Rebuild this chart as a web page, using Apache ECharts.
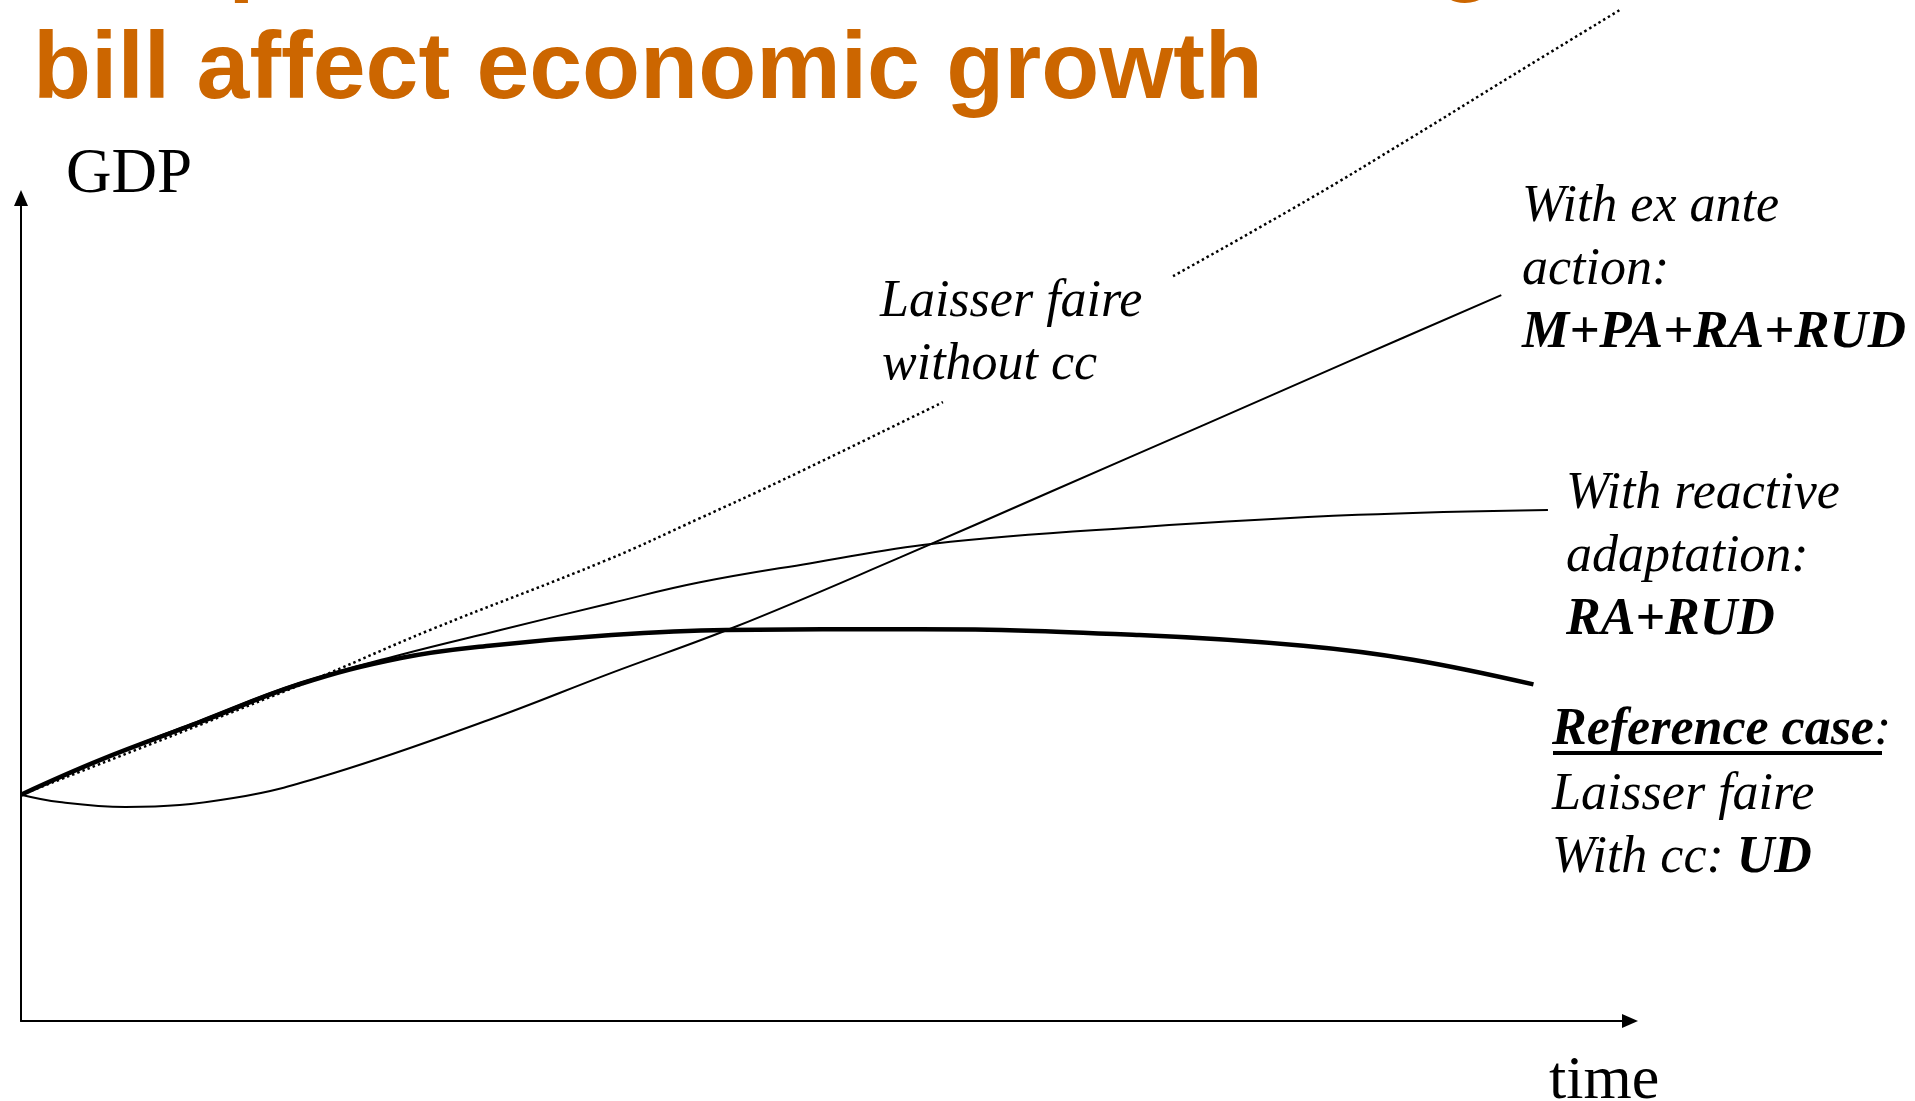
<!DOCTYPE html>
<html>
<head>
<meta charset="utf-8">
<style>
html,body{margin:0;padding:0;background:#fff;}
#chart{width:1915px;height:1101px;}
</style>
<script src="https://cdn.jsdelivr.net/npm/echarts@6/dist/echarts.min.js"></script>
</head>
<body>
<div id="chart"></div>
<script>
// ---- data (time, GDP) ----
const referenceCase = [[0,27.5],[4.9,31.7],[11.1,36.3],[17.3,40.9],[23.6,44.1],[29.1,45.6],[36.7,46.9],[43.8,47.5],[55.8,47.6],[69.5,46.9],[79.7,45.6],[86.5,43.9],[94.0,40.9]];
const reactiveAdaptation = [[0,27.5],[4.9,31.7],[11.1,36.5],[17.3,41.1],[23.6,44.5],[29.8,47.5],[36.7,50.8],[42.2,53.3],[49.0,55.6],[56.7,58.0],[69.5,60.0],[83.1,61.5],[94.9,62.1]];
const exAnteAction = [[0,27.5],[2.4,26.6],[6.5,26.0],[13.2,27.1],[19.4,30.1],[29.1,36.6],[36.7,42.3],[44.4,47.9],[54.6,56.3],[64.1,64.4],[73.6,72.5],[82.6,80.2],[92.0,88.2]];
const withoutCcLower = [[0,27.5],[17.7,41.1],[25.4,47.5],[36.4,56.0],[42.2,61.1],[47.3,65.7],[57.3,75.2]];
const withoutCcUpper = [[71.6,90.5],[80.0,99.8],[86.3,107.2],[92.7,114.9],[99.5,123.0]];

const titleLines = ['The policies and how the damage', 'bill affect economic growth'];
const axisNames = {y: 'GDP', x: 'time'};

const SERIF = "'Liberation Serif', 'Times New Roman', serif";
const SANS = "'Liberation Sans', Arial, sans-serif";
const FS = 52;

function textLine(x, baseline, text, opts, k) {
  const fs = opts.fontSize || FS;
  return {
    type: 'text', x: x, y: baseline - (k || 0.243) * fs, silent: true,
    style: Object.assign({
      text: text, fontSize: fs, fontFamily: SERIF, fill: '#000',
      align: 'left', verticalAlign: 'middle'
    }, opts)
  };
}
const richStyles = {
  i: {fontSize: FS, fontFamily: SERIF, fontStyle: 'italic', fill: '#000'},
  b: {fontSize: FS, fontFamily: SERIF, fontStyle: 'italic', fontWeight: 'bold', fill: '#000'}
};
const titleStyle = {fontSize: 95, fontFamily: SANS, fontWeight: 'bold', fill: '#CC6600'};

const graphics = [
  textLine(33, -15, titleLines[0], titleStyle, 0.296),
  textLine(33, 100, titleLines[1], titleStyle, 0.296),
  textLine(66, 191, axisNames.y, {fontSize: 63}),
  textLine(1549, 1097, axisNames.x, {fontSize: 62}),
  textLine(880, 315, 'Laisser faire', {fontStyle: 'italic'}),
  textLine(882, 378, 'without cc', {fontStyle: 'italic'}),
  textLine(1522, 220, 'With ex ante', {fontStyle: 'italic'}),
  textLine(1522, 283, 'action:', {fontStyle: 'italic'}),
  textLine(1522, 346, 'M+PA+RA+RUD', {fontStyle: 'italic', fontWeight: 'bold', fontSize: 53}),
  textLine(1566, 507, 'With reactive', {fontStyle: 'italic'}),
  textLine(1566, 570, 'adaptation:', {fontStyle: 'italic'}),
  textLine(1566, 633, 'RA+RUD', {fontStyle: 'italic', fontWeight: 'bold'}),
  textLine(1552, 743, '{b|Reference case}{i|:}', {rich: richStyles}),
  textLine(1552, 808, 'Laisser faire', {fontStyle: 'italic'}),
  textLine(1552, 871, '{i|With cc: }{b|UD}', {rich: richStyles}),
  {type: 'rect', silent: true, shape: {x: 1553, y: 751, width: 329, height: 4}, style: {fill: '#000'}}
];

function axis() {
  return {
    type: 'value', min: 0, max: 100,
    axisLine: {show: true, onZero: true, symbol: ['none', 'triangle'], symbolSize: [14, 16], lineStyle: {color: '#000', width: 2}},
    axisTick: {show: false}, axisLabel: {show: false}, splitLine: {show: false}
  };
}
function curve(name, data, width, type) {
  return {
    name: name, type: 'line', data: data, symbol: 'none', smooth: 0.4, clip: false,
    lineStyle: {color: '#000', width: width, type: type || 'solid', cap: 'butt'},
    silent: true
  };
}

const chart = echarts.init(document.getElementById('chart'), null, {renderer: 'canvas'});
chart.setOption({
  backgroundColor: '#fff',
  animation: false,
  grid: {left: 21, right: 285, top: 198, bottom: 80},
  xAxis: axis(),
  yAxis: axis(),
  series: [
    curve('Laisser faire without cc', withoutCcLower, 2.5, [2.5, 3]),
    curve('Laisser faire without cc (cont.)', withoutCcUpper, 2.5, [2.5, 3]),
    curve('With ex ante action: M+PA+RA+RUD', exAnteAction, 2),
    curve('With reactive adaptation: RA+RUD', reactiveAdaptation, 2),
    curve('Reference case', referenceCase, 4.5)
  ],
  graphic: graphics
});
</script>
</body>
</html>
